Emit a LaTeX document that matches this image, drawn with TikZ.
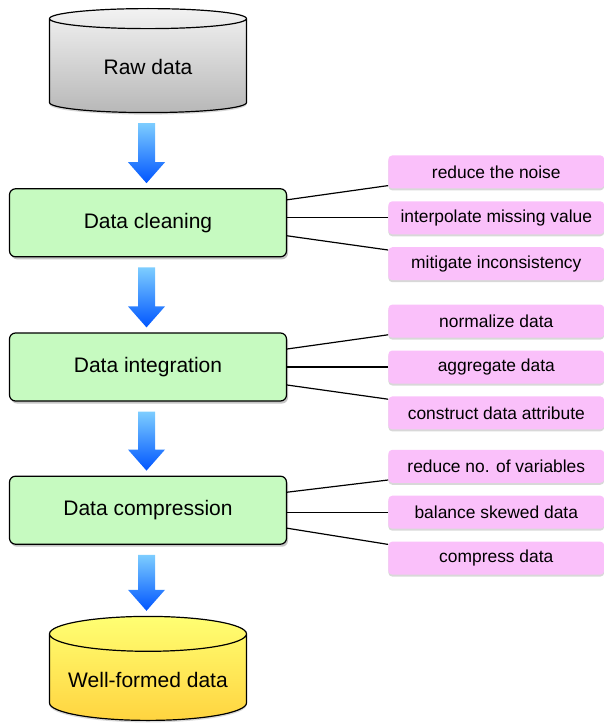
\documentclass[tikz,border=0pt]{standalone}
\usepackage{fontspec}
\setmainfont{Liberation Sans}
\usetikzlibrary{shapes.geometric, positioning, shadows, calc}
\definecolor{stagegreen}{RGB}{198,250,192}
\definecolor{taskpink}{RGB}{250,192,250}
\definecolor{flowtop}{RGB}{125,205,255}
\definecolor{flowbot}{RGB}{0,85,255}
\tikzstyle{store} = [cylinder, shape border rotate=90, aspect=0.21, minimum width=197pt, minimum height=104pt, text centered, draw=black, line width=1.2pt, drop shadow={shadow xshift=0pt, shadow yshift=-2pt, fill=black!30}, font=\fontsize{21}{25}\selectfont]
\tikzstyle{stage} = [rectangle, rounded corners=6pt, minimum width=277pt, minimum height=68pt, text centered, draw=black, line width=1.2pt, fill=stagegreen, drop shadow={shadow xshift=1.5pt, shadow yshift=-2.5pt, fill=black!45}, font=\fontsize{21}{25}\selectfont]
\tikzstyle{task} = [rectangle, rounded corners=4pt, minimum width=216pt, minimum height=33pt, text centered, fill=taskpink, drop shadow={shadow xshift=0pt, shadow yshift=-2pt, fill=black!30}, font=\fontsize{17.4}{20}\selectfont]
\tikzstyle{link} = [line width=1.2pt, black]
\tikzstyle{flow} = [top color=flowtop, bottom color=flowbot, draw=none]

\begin{document}
\begin{tikzpicture}[x=1pt, y=1pt]
\useasboundingbox (0,0) rectangle (603,-725);
  % Define the blocks
\node (raw) [store, top color=black!5, bottom color=black!28, anchor=north] at (148,-8) {Raw data};
\node (clean) [stage, below=75pt of raw] {Data cleaning};
\node (integ) [stage, below=75pt of clean] {Data integration};
\node (compr) [stage, below=74pt of integ] {Data compression};
\node (good) [store, top color=yellow!55, bottom color=orange!45!yellow!75, below=71pt of compr] {Well-formed data};

\node (interp) [task, right=101pt of clean, yshift=5pt] {interpolate missing value};
\node (noise) [task, above=12.5pt of interp] {reduce the noise};
\node (incons) [task, below=12.5pt of interp] {mitigate inconsistency};

\node (aggr) [task, right=101pt of integ] {aggregate data};
\node (norm) [task, above=12.5pt of aggr] {normalize data};
\node (attr) [task, below=12.5pt of aggr] {construct data attribute};

\node (skew) [task, right=101pt of compr, yshift=-2pt] {balance skewed data};
\node (vars) [task, above=12.5pt of skew] {reduce no. of variables};
\node (cmpd) [task, below=12.5pt of skew] {compress data};

% Draw the arrows
\foreach \a/\b in {raw/clean, clean/integ, integ/compr, compr/good}
  \shade[flow] ($(\a.south)+(-10,-10)$) -- ($(\a.south)+(7,-10)$) -- ($(\b.north)+(7,26)$) -- ($(\b.north)+(17,26)$) -- ($(\b.north)+(-1.5,5)$) -- ($(\b.north)+(-20,26)$) -- ($(\b.north)+(-10,26)$) -- cycle;

% Draw the lines
\draw [link] ([yshift=18pt]clean.east |- interp.west) -- ([yshift=3pt]noise.south west);
\draw [link] (clean.east |- interp.west) -- (interp.west);
\draw [link] ([yshift=-18pt]clean.east |- interp.west) -- ([yshift=-3pt]incons.north west);
\draw [link] ([yshift=18pt]integ.east) -- ([yshift=3pt]norm.south west);
\draw [link] (integ.east) -- (aggr.west);
\draw [link] ([yshift=-18pt]integ.east) -- ([yshift=-3pt]attr.north west);
\draw [link] ([yshift=18pt]compr.east) -- ([yshift=3pt]vars.south west);
\draw [link] (compr.east |- skew.west) -- (skew.west);
\draw [link] ([yshift=-18pt]compr.east) -- ([yshift=-3pt]cmpd.north west);

\end{tikzpicture}
\end{document}
